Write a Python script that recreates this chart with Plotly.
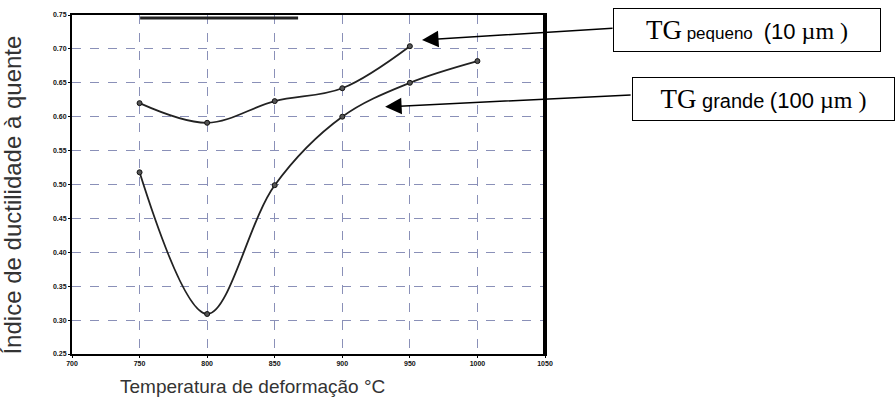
import plotly.graph_objects as go

temps_small = [750, 800, 850, 900, 950]
index_small = [0.620, 0.591, 0.623, 0.642, 0.704]
temps_large = [750, 800, 850, 900, 950, 1000]
index_large = [0.518, 0.309, 0.499, 0.600, 0.650, 0.682]

x_ticks = [700, 750, 800, 850, 900, 950, 1000, 1050]
y_ticks = [0.25, 0.30, 0.35, 0.40, 0.45, 0.50, 0.55, 0.60, 0.65, 0.70, 0.75]

fig = go.Figure()
fig.add_trace(go.Scatter(x=temps_small, y=index_small, mode="lines+markers",
                         line=dict(color="#222", width=1.8, shape="spline", smoothing=1.0),
                         marker=dict(size=5, color="#555", line=dict(color="#111", width=1)),
                         showlegend=False))
fig.add_trace(go.Scatter(x=temps_large, y=index_large, mode="lines+markers",
                         line=dict(color="#222", width=1.8, shape="spline", smoothing=1.0),
                         marker=dict(size=5, color="#555", line=dict(color="#111", width=1)),
                         showlegend=False))

fig.update_layout(
    width=896, height=410,
    margin=dict(l=72, r=351, t=15, b=56),
    paper_bgcolor="white", plot_bgcolor="white",
    font=dict(family="Liberation Sans, Arial, sans-serif", color="#222"),
    xaxis=dict(range=[700, 1050], tickvals=x_ticks, ticktext=[f"<b>{v}</b>" for v in x_ticks],
               tickfont=dict(size=7, family="Liberation Sans", color="#111"),
               showgrid=True, gridcolor="#8a90b8", griddash="dash", gridwidth=1,
               showline=True, linecolor="black", linewidth=2, mirror=True,
               ticks="outside", ticklen=2, tickcolor="black", zeroline=False),
    yaxis=dict(range=[0.25, 0.75], tickvals=y_ticks, ticktext=[f"<b>{v:.2f}</b>" for v in y_ticks],
               tickfont=dict(size=7, family="Liberation Sans", color="#111"),
               showgrid=True, gridcolor="#8a90b8", griddash="dash", gridwidth=1,
               showline=True, linecolor="black", linewidth=2, mirror=True,
               ticks="outside", ticklen=2, tickcolor="black", zeroline=False),
)

# axis titles placed as in the reference
fig.add_annotation(xref="paper", yref="paper", x=0.381, y=-0.097, xanchor="center", yanchor="middle",
                   showarrow=False, text="Temperatura de deformação °C",
                   font=dict(size=19, color="#333"))
fig.add_annotation(xref="paper", yref="paper", x=-0.125, y=0.47, xanchor="center", yanchor="middle",
                   showarrow=False, textangle=-90, text="Índice de ductilidade à quente",
                   font=dict(size=24, color="#333"))

# thick right border and top artifact bar
fig.add_shape(type="line", xref="paper", yref="paper", x0=1, x1=1, y0=0, y1=1,
              line=dict(color="black", width=4))
fig.add_shape(type="line", xref="paper", yref="paper", x0=0.144, x1=0.478, y0=0.991, y1=0.991,
              line=dict(color="#222", width=3))

fig.add_annotation(xref="paper", yref="paper", x=1.427, y=0.956, xanchor="center", yanchor="middle",
                   showarrow=False, width=262, height=38, align="center",
                   text="<span style='font-family:Liberation Serif;font-size:27px'>TG</span>"
                        "<span style='font-size:17px'> pequeno </span>"
                        "<span style='font-size:22px'> (10 </span>"
                        "<span style='font-family:Liberation Serif;font-size:24px'>µm )</span>",
                   bordercolor="black", borderwidth=1, borderpad=2, bgcolor="white",
                   font=dict(color="black"))
fig.add_annotation(xref="paper", yref="paper", x=1.461, y=0.752, xanchor="center", yanchor="middle",
                   showarrow=False, width=257, height=38, align="center",
                   text="<span style='font-family:Liberation Serif;font-size:27px'>TG</span>"
                        "<span style='font-size:20px'> grande </span>"
                        "<span style='font-size:22px'>(100 </span>"
                        "<span style='font-family:Liberation Serif;font-size:24px'>µm )</span>",
                   bordercolor="black", borderwidth=1, borderpad=2, bgcolor="white",
                   font=dict(color="black"))

fig.add_annotation(xref="paper", yref="paper", x=0.740, y=0.926, text="",
                   showarrow=True, ax=192, ay=-12, arrowhead=2, arrowsize=2.2,
                   arrowwidth=1.5, arrowcolor="black")
fig.add_annotation(xref="paper", yref="paper", x=0.662, y=0.729, text="",
                   showarrow=True, ax=247, ay=-12, arrowhead=2, arrowsize=2.2,
                   arrowwidth=1.5, arrowcolor="black")

fig.write_html("out.html")
